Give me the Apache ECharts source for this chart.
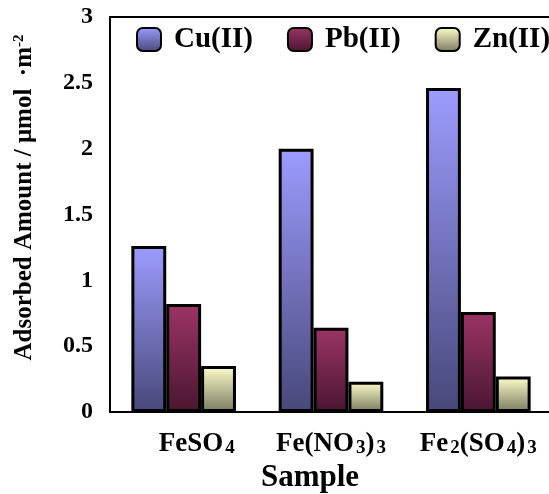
<!DOCTYPE html>
<html lang="en">
<head>
  <meta charset="UTF-8">
  <title>Adsorbed Amount by Sample</title>
  <script src="https://cdn.jsdelivr.net/npm/echarts@6.0.0/dist/echarts.min.js"></script>
  <style>
    html, body { margin: 0; padding: 0; background: #fff; overflow: hidden; }
  </style>
</head>
<body>

  <div id="main" style="width: 549px;height:494px;"></div>

  <script type="text/javascript">
    // Data
    const categories = ['FeSO4', 'Fe(NO3)3', 'Fe2(SO4)3'];
    const seriesNames = ['Cu(II)', 'Pb(II)', 'Zn(II)'];
    const cuValues = [1.26, 2.0, 2.46];
    const pbValues = [0.82, 0.64, 0.76];
    const znValues = [0.35, 0.23, 0.27];
    const yMin = 0, yMax = 3, yStep = 0.5;

    const font = '"Liberation Serif", "Times New Roman", serif';

    // top / bottom colours of each bar gradient
    const shades = [
      ['#9c9cff', '#48487a'],
      ['#9c3466', '#4a1630'],
      ['#ffffcc', '#7a7a60']
    ];

    function grad(c) {
      return new echarts.graphic.LinearGradient(0, 0, 0, 1, [
        { offset: 0, color: c[0] },
        { offset: 1, color: c[1] }
      ]);
    }

    // turn digits into subscript pieces for rich text
    function chem(name, idx) {
      let s = name.replace(/(\d+)|([^\d]+)/g, (m, d, t) => d ? '{s|' + d + '}' : '{n|' + t + '}');
      // first label sits a bit right of its bars in the original
      return idx === 0 ? '{g|}' + s : s;
    }

    let myChart = echarts.init(document.getElementById('main'));

    let valueLists = [cuValues, pbValues, znValues];

    const black = { color: '#000', width: 2 };

    let options = {
      animation: false,
      grid: {
        left: 110, right: -3, top: 17, bottom: 82,
        outerBoundsMode: 'none'
      },
      legend: {
        left: 136, top: 25,
        padding: 0,
        width: 440,
        itemWidth: 24, itemHeight: 23, itemGap: 34,
        textStyle: { fontFamily: font, fontWeight: 'bold', fontSize: 29, color: '#000', padding: [0, 0, 0, 8] },
        data: seriesNames
      },
      xAxis: [{
        type: 'category',
        data: categories,
        axisLine: { lineStyle: black },
        axisTick: { show: false },
        splitLine: { show: false },
        axisLabel: {
          interval: 0,
          margin: 18,
          formatter: (v, i) => chem(v, i),
          rich: {
            g: { width: 26 },
            n: { fontFamily: font, fontWeight: 'bold', fontSize: 27, color: '#000', lineHeight: 28 },
            s: { fontFamily: font, fontWeight: 'bold', fontSize: 19, color: '#000', lineHeight: 18, verticalAlign: 'bottom', padding: [0, 0, 0, 2] }
          }
        },
        name: 'Sample',
        nameLocation: 'middle',
        nameGap: 47,
        nameTextStyle: { fontFamily: font, fontWeight: 'bold', fontSize: 31, color: '#000', padding: [0, 42, 0, 0] }
      }, {
        // top frame line
        type: 'category',
        position: 'top',
        data: categories,
        axisLine: { lineStyle: black },
        axisTick: { show: false },
        splitLine: { show: false },
        axisLabel: { show: false }
      }],
      yAxis: {
        type: 'value',
        min: yMin, max: yMax, interval: yStep,
        splitLine: { show: false },
        axisLine: { show: true, lineStyle: black },
        axisTick: { show: false },
        axisLabel: {
          margin: 17,
          fontFamily: font, fontWeight: 'bold', fontSize: 24, color: '#000'
        },
        name: '{a|Adsorbed Amount / μmol  ·m}{p|-2}',
        nameLocation: 'middle',
        nameGap: 72,
        nameTextStyle: {
          padding: [0, 0, 0, 34],
          rich: {
            a: { fontFamily: font, fontWeight: 'bold', fontSize: 25, color: '#000', lineHeight: 26 },
            p: { fontFamily: font, fontWeight: 'bold', fontSize: 15, color: '#000', lineHeight: 15, verticalAlign: 'top' }
          }
        }
      },
      series: valueLists.map((vals, i) => ({
        name: seriesNames[i],
        type: 'bar',
        data: vals,
        barGap: '0%',
        barCategoryGap: '29%',
        itemStyle: { color: grad(shades[i]), borderColor: '#000', borderWidth: 3 }
      }))
    };

    myChart.setOption(options);
  </script>
</body>
</html>
